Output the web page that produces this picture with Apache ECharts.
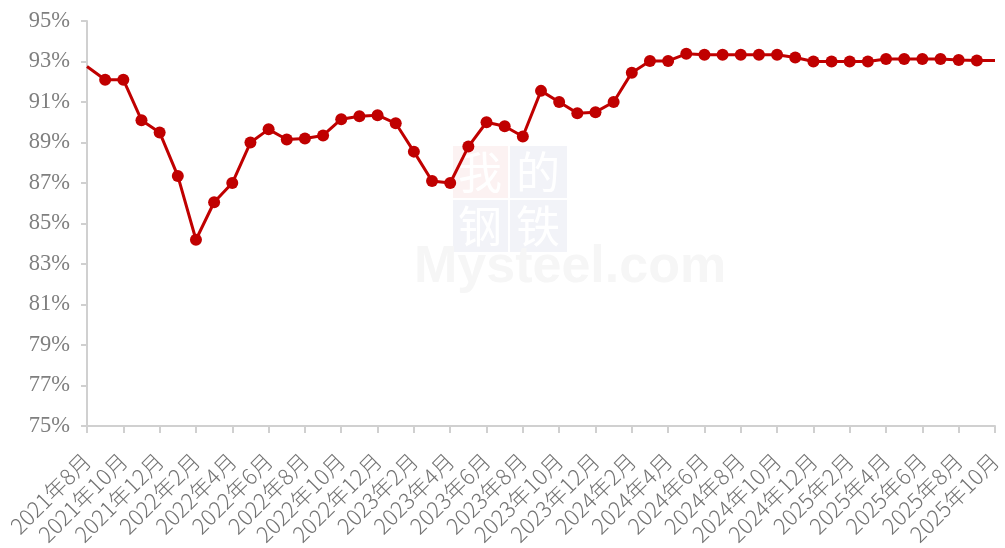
<!DOCTYPE html>
<html>
<head>
<meta charset="utf-8">
<script src="https://cdn.jsdelivr.net/npm/echarts@6/dist/echarts.min.js"></script>
<style>html,body{margin:0;padding:0;background:#fff;}#c{width:1005px;height:548px;}</style>
</head>
<body>
<div id="c"></div>
<script>
const categories = [
  '2021年8月','2021年9月','2021年10月','2021年11月','2021年12月',
  '2022年1月','2022年2月','2022年3月','2022年4月','2022年5月','2022年6月','2022年7月','2022年8月','2022年9月','2022年10月','2022年11月','2022年12月',
  '2023年1月','2023年2月','2023年3月','2023年4月','2023年5月','2023年6月','2023年7月','2023年8月','2023年9月','2023年10月','2023年11月','2023年12月',
  '2024年1月','2024年2月','2024年3月','2024年4月','2024年5月','2024年6月','2024年7月','2024年8月','2024年9月','2024年10月','2024年11月','2024年12月',
  '2025年1月','2025年2月','2025年3月','2025年4月','2025年5月','2025年6月','2025年7月','2025年8月','2025年9月','2025年10月'
];
const values = [
  92.75, 92.1, 92.1, 90.1, 89.5,
  87.35, 84.2, 86.05, 87.0, 89.0, 89.65, 89.15, 89.2, 89.35, 90.15, 90.3, 90.35,
  89.95, 88.55, 87.1, 87.0, 88.8, 90.0, 89.8, 89.3, 91.55, 91.0, 90.45, 90.5,
  91.0, 92.45, 93.02, 93.03, 93.38, 93.33, 93.33, 93.33, 93.33, 93.33, 93.2, 93.0,
  93.0, 93.0, 93.0, 93.12, 93.12, 93.12, 93.12, 93.08, 93.05, 93.05
];
const yMin = 75, yMax = 95, yStep = 2;

const chart = echarts.init(document.getElementById('c'), null, {renderer: 'canvas'});
const seriesData = values.map((v, i) => (i === 0 || i === values.length - 1) ? {value: v, symbol: 'none'} : v);

chart.setOption({
  animation: false,
  backgroundColor: '#ffffff',
  grid: {left: 87, right: 10, top: 21, bottom: 120, containLabel: false},
  graphic: [
    {type: 'group', z: -10, silent: true, children: [
      {type: 'rect', shape: {x: 453, y: 146, width: 55, height: 52}, style: {fill: '#fcf2f2'}},
      {type: 'rect', shape: {x: 510, y: 146, width: 57, height: 52}, style: {fill: '#f2f3f8'}},
      {type: 'rect', shape: {x: 453, y: 200, width: 55, height: 52}, style: {fill: '#f2f3f8'}},
      {type: 'rect', shape: {x: 510, y: 200, width: 57, height: 52}, style: {fill: '#f2f3f8'}},
      {type: 'text', style: {x: 480, y: 172, text: '我', font: '44px "Noto Sans CJK SC"', fill: '#ffffff', align: 'center', verticalAlign: 'middle'}},
      {type: 'text', style: {x: 538, y: 172, text: '的', font: '44px "Noto Sans CJK SC"', fill: '#ffffff', align: 'center', verticalAlign: 'middle'}},
      {type: 'text', style: {x: 480, y: 226, text: '钢', font: '44px "Noto Sans CJK SC"', fill: '#ffffff', align: 'center', verticalAlign: 'middle'}},
      {type: 'text', style: {x: 538, y: 226, text: '铁', font: '44px "Noto Sans CJK SC"', fill: '#ffffff', align: 'center', verticalAlign: 'middle'}},
      {type: 'text', style: {x: 414, y: 268, text: 'Mysteel.com', font: 'bold 52px "Liberation Sans"', fill: '#f6f6f6', align: 'left', verticalAlign: 'middle'}}
    ]}
  ],
  xAxis: {
    type: 'category',
    data: categories,
    boundaryGap: false,
    axisLine: {lineStyle: {color: '#d0d0d0', width: 2}},
    axisTick: {show: true, interval: 1, length: 7, lineStyle: {color: '#d0d0d0', width: 2}},
    axisLabel: {
      interval: 1, rotate: 45, margin: 31,
      fontFamily: '"Noto Sans CJK SC"', fontWeight: 300, fontSize: 22, color: '#737373'
    },
    splitLine: {show: false}
  },
  yAxis: {
    type: 'value',
    min: yMin, max: yMax, interval: yStep,
    axisLine: {show: true, lineStyle: {color: '#d0d0d0', width: 2}},
    axisTick: {show: true, length: 6, lineStyle: {color: '#d0d0d0', width: 2}},
    axisLabel: {
      margin: 17, formatter: v => v + '%',
      fontFamily: '"Liberation Serif"', fontSize: 22.5, color: '#7f7f7f'
    },
    splitLine: {show: false}
  },
  series: [{
    type: 'line',
    data: seriesData,
    symbol: 'circle',
    symbolSize: 12,
    showAllSymbol: true,
    clip: false,
    lineStyle: {color: '#c00000', width: 3},
    itemStyle: {color: '#c00000'}
  }]
});
</script>
</body>
</html>
